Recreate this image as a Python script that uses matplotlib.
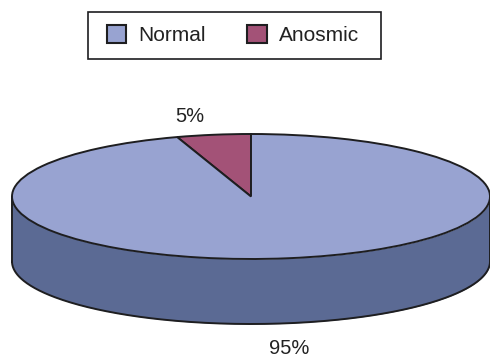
import numpy as np
import matplotlib
matplotlib.use("Agg")
import matplotlib.pyplot as plt
from matplotlib.patches import Rectangle

labels = ["Anosmic", "Normal"]
values = [5, 95]
pct_labels = ["5%", "95%"]
colors = ["#A35277", "#98A3D1"]
side_color = "#5B6A94"
edge = "#1E1E20"

plt.rcParams["font.family"] = ["Liberation Sans", "DejaVu Sans"]

W, H = 490, 358
cx, cy, rx, ry = 251, 196.5, 239, 62.5
depth = 65
lw = 1.4

fig = plt.figure(figsize=(W / 100, H / 100), dpi=100)

# background axes in pixel coordinates
bg = fig.add_axes([0, 0, 1, 1])
bg.set_xlim(0, W)
bg.set_ylim(H, 0)
bg.axis("off")

# side of the disc
t = np.linspace(0, np.pi, 300)
xs = cx + rx * np.cos(t)
ys = cy + ry * np.sin(t)
bg.fill_between(xs, ys, ys + depth, color=side_color, lw=0)
bg.plot(xs, ys + depth, color=edge, lw=lw)
bg.plot([xs[0], xs[0]], [ys[0], ys[0] + depth], color=edge, lw=lw)
bg.plot([xs[-1], xs[-1]], [ys[-1], ys[-1] + depth], color=edge, lw=lw)

# top face: a pie stretched to an ellipse
top = fig.add_axes([(cx - rx) / W, 1 - (cy + ry) / H, 2 * rx / W, 2 * ry / H])
wedges, _ = top.pie(values, colors=colors, startangle=90,
                    wedgeprops={"edgecolor": edge, "linewidth": lw})
top.set_aspect("auto")
top.set_xlim(-1, 1)
top.set_ylim(-1, 1)
for w in wedges:
    w.set_clip_on(False)

bg.text(190, 116, pct_labels[0], fontsize=14.5, color="#222222", ha="center", va="center")
bg.text(289, 349, pct_labels[1], fontsize=14.5, color="#222222", ha="center", va="center")

# legend frame is wider than the legend's own padding allows
bg.add_patch(Rectangle((88, 12), 293, 47, fc="white", ec=edge, lw=1.2))

# legend lists Normal first
handles = [wedges[1], wedges[0]]
leg = fig.legend(handles, [labels[1], labels[0]], ncol=2, fontsize=15,
                 loc="center", bbox_to_anchor=(233 / W, 1 - 35 / H),
                 frameon=False, handlelength=0.93, handleheight=0.93,
                 handletextpad=0.58, columnspacing=1.98, borderpad=0.3,
                 borderaxespad=0, labelcolor="#222222")
for p in leg.get_patches():
    p.set_linewidth(1.5)

fig.savefig("out.png", dpi=100)
